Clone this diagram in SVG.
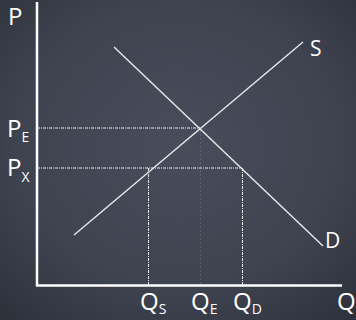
<svg xmlns="http://www.w3.org/2000/svg" width="356" height="320" viewBox="0 0 356 320">
<defs>
<radialGradient id="bg" cx="0.5" cy="0.45" r="0.75">
<stop offset="0" stop-color="#474d5a"/>
<stop offset="0.6" stop-color="#3e4350"/>
<stop offset="1" stop-color="#2c3039"/>
</radialGradient>
<style>
.axis{stroke:#ffffff;stroke-width:2.5;fill:none}
.curve{stroke:#e6e6e6;stroke-width:1.5;fill:none}
.guide{stroke:#e8e8e8;stroke-width:1;stroke-dasharray:3 1 1 1;fill:none}
.faint{stroke:#8d939d;stroke-width:1;stroke-dasharray:2 2;fill:none;opacity:0.35}
.lbl{font-family:"Open Sans","Liberation Sans",sans-serif;fill:#ffffff;font-size:24px}
.sub{font-size:14px}
.cl{font-family:"Open Sans","Liberation Sans",sans-serif;fill:#ffffff;font-size:21px}
</style>
</defs>
<rect width="356" height="320" fill="url(#bg)"/>
<g id="connectors">
<line class="guide" x1="37" y1="128" x2="200" y2="128"/>
<line class="guide" x1="37" y1="168" x2="242" y2="168"/>
<line class="guide" x1="148.5" y1="168" x2="148.5" y2="285"/>
<line class="guide" x1="242.5" y1="168" x2="242.5" y2="285"/>
<line class="faint" x1="200.5" y1="130" x2="200.5" y2="285"/>
</g>
<g id="axes">
<line class="axis" x1="37" y1="2" x2="37" y2="286"/>
<line class="axis" x1="36" y1="285.5" x2="342" y2="285.5"/>
</g>
<g id="supply">
<line class="curve" x1="74" y1="235" x2="303" y2="42"/>
<text class="cl" x="310" y="56">S</text>
</g>
<g id="demand">
<line class="curve" x1="114" y1="47" x2="323" y2="246"/>
<text class="cl" x="325" y="248">D</text>
</g>
<g id="labels">
<text class="lbl" x="8" y="25">P</text>
<text class="lbl" x="7" y="137">P<tspan class="sub" dy="5">E</tspan></text>
<text class="lbl" x="7" y="176">P<tspan class="sub" dy="6">X</tspan></text>
<text class="lbl" x="140" y="310">Q<tspan class="sub" dy="4">S</tspan></text>
<text class="lbl" x="191" y="310">Q<tspan class="sub" dy="4">E</tspan></text>
<text class="lbl" x="233" y="310">Q<tspan class="sub" dy="4">D</tspan></text>
<text class="lbl" x="337" y="310">Q</text>
</g>
</svg>
